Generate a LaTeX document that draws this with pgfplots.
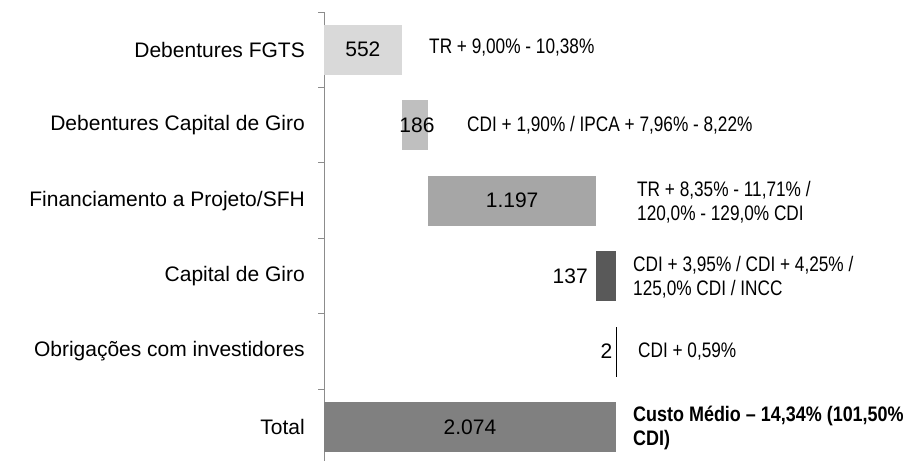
\documentclass[border=0pt]{standalone}
\usepackage{fontspec}
\setmainfont{Liberation Sans}
\newfontfamily\narrowfont[FakeStretch=0.82]{Liberation Sans}
\newfontfamily\narrowbold[FakeStretch=0.855]{Liberation Sans Bold}
\usepackage{pgfplots}
\pgfplotsset{compat=1.18}
\definecolor{cA}{HTML}{D9D9D9}
\definecolor{cB}{HTML}{BFBFBF}
\definecolor{cC}{HTML}{A6A6A6}
\definecolor{cD}{HTML}{595959}
\definecolor{cE}{HTML}{808080}
\definecolor{axgray}{HTML}{8C8C8C}
\begin{document}
\begin{tikzpicture}
\path[use as bounding box] (0,0) rectangle (909pt,-461pt);
\begin{axis}[
  at={(324pt,-12pt)}, anchor=north west,
  scale only axis, width=292pt, height=449pt,
  xmin=0, xmax=2074, ymin=-0.5, ymax=5.45, y dir=reverse,
  hide x axis,
  axis y line*=left,
  axis line style={draw=axgray, line width=0.9pt},
  ytick={0,1,2,3,4,5},
  yticklabels={Debentures FGTS, Debentures Capital de Giro, Financiamento a Projeto/SFH, Capital de Giro, Obrigações com investidores, Total},
  major tick length=0pt,
  minor ytick={-0.5,0.5,1.5,2.5,3.5,4.5},
  minor tick length=6pt,
  tick align=outside,
  tick style={draw=axgray, line width=0.9pt},
  yticklabel style={font=\fontsize{21}{25}\selectfont, inner sep=0pt, xshift=-19pt, anchor=east},
  clip=false,
]
% waterfall bars: (start, end) of each category, bar half-height 0.33
\addplot[fill=cA, draw=none] coordinates {(0,-0.33) (552,-0.33) (552,0.33) (0,0.33)} -- cycle;
\addplot[fill=cB, draw=none] coordinates {(552,0.67) (738,0.67) (738,1.33) (552,1.33)} -- cycle;
\addplot[fill=cC, draw=none] coordinates {(738,1.67) (1935,1.67) (1935,2.33) (738,2.33)} -- cycle;
\addplot[fill=cD, draw=none] coordinates {(1935,2.67) (2072,2.67) (2072,3.33) (1935,3.33)} -- cycle;
\addplot[fill=black, draw=black, line width=0.3pt] coordinates {(2072,3.67) (2074,3.67) (2074,4.33) (2072,4.33)} -- cycle;
\addplot[fill=cE, draw=none] coordinates {(0,4.67) (2074,4.67) (2074,5.33) (0,5.33)} -- cycle;

\node[font=\fontsize{21}{25}\selectfont, inner sep=0pt] at (axis cs:276,0) {552};
\node[font=\fontsize{21}{25}\selectfont, inner sep=0pt] at (axis cs:660,1) {186};
\node[font=\fontsize{21}{25}\selectfont, inner sep=0pt] at (axis cs:1336,2) {1.197};
\node[font=\fontsize{21}{25}\selectfont, inner sep=0pt, anchor=east] at (axis cs:1875,3) {137};
\node[font=\fontsize{21}{25}\selectfont, inner sep=0pt, anchor=east] at (axis cs:2050,4) {2};
\node[font=\fontsize{21}{25}\selectfont, inner sep=0pt] at (axis cs:1037,5) {2.074};

\node[font=\narrowfont\fontsize{21}{24}\selectfont, inner sep=0pt, anchor=west, align=left] at (axis cs:746,-0.03) {TR + 9,00\% - 10,38\%};
\node[font=\narrowfont\fontsize{21}{24}\selectfont, inner sep=0pt, anchor=west, align=left] at (axis cs:1016,1) {CDI + 1,90\% / IPCA + 7,96\% - 8,22\%};
\node[font=\narrowfont\fontsize{21}{24}\selectfont, inner sep=0pt, anchor=west, align=left] at (axis cs:2223,2.02) {TR + 8,35\% - 11,71\% /\\120,0\% - 129,0\% CDI};
\node[font=\narrowfont\fontsize{21}{24}\selectfont, inner sep=0pt, anchor=west, align=left] at (axis cs:2195,3.01) {CDI + 3,95\% / CDI + 4,25\% /\\125,0\% CDI / INCC};
\node[font=\narrowfont\fontsize{21}{24}\selectfont, inner sep=0pt, anchor=west, align=left] at (axis cs:2230,4) {CDI + 0,59\%};
\node[font=\narrowbold\fontsize{21}{24}\selectfont, inner sep=0pt, anchor=west, align=left] at (axis cs:2195,5.01) {Custo Médio – 14,34\% (101,50\%\\CDI)};
\end{axis}
\end{tikzpicture}
\end{document}
